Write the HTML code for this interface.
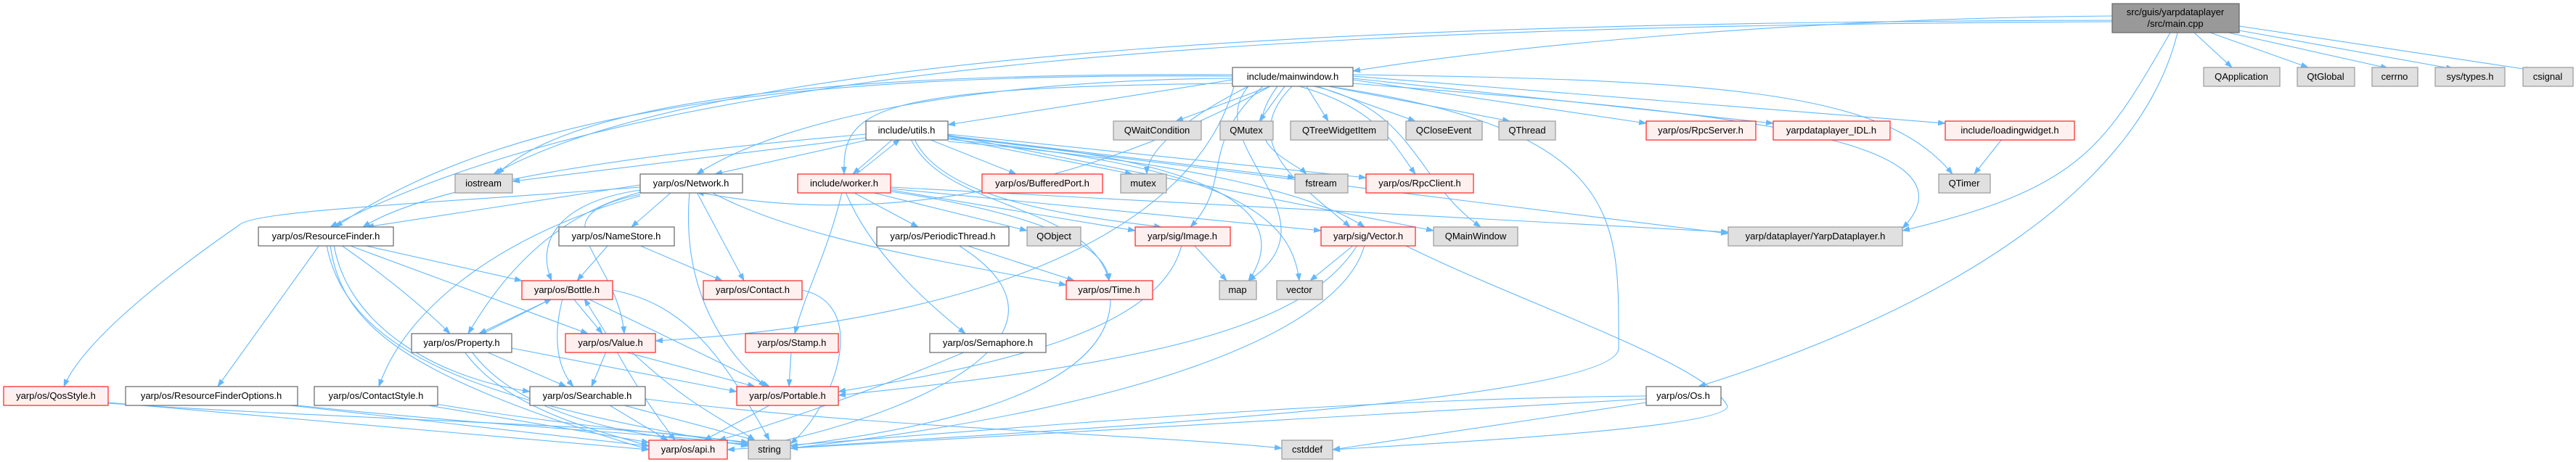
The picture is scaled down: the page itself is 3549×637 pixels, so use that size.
<!DOCTYPE html>
<html><head><meta charset="utf-8"><style>
html,body{margin:0;padding:0;background:#fff;}
svg{display:block;}
text{font-family:"Liberation Sans",sans-serif;font-size:13px;fill:#000;}
.e{fill:none;stroke:#63b8ff;stroke-width:1.1;marker-end:url(#a);}
.w{fill:#fff;stroke:#666;stroke-width:1.2;}
.r{fill:#fff0f0;stroke:#ff2020;stroke-width:1.2;}
.g{fill:#e0e0e0;stroke:#999;stroke-width:1.2;}
.m{fill:#999;stroke:#666;stroke-width:1.2;}
</style></head><body>
<svg width="3549" height="637" viewBox="0 0 3549 637" xmlns="http://www.w3.org/2000/svg">
<defs><marker id="a" markerUnits="userSpaceOnUse" markerWidth="11" markerHeight="8" refX="10" refY="4" orient="auto"><path d="M0,0 L11,4 L0,8 z" fill="#63b8ff"/></marker></defs>
<g>
<!-- main -->
<path class="e" d="M2910,22 C2500,25 2100,60 1864,98"/>
<path class="e" d="M2910,28 C2000,30 1000,60 680,240"/>
<path class="e" d="M2910,30 C1800,35 900,80 455,313"/>
<path class="e" d="M3023,45 L3075,93"/>
<path class="e" d="M3045,45 L3180,93"/>
<path class="e" d="M3070,45 L3290,94"/>
<path class="e" d="M3085,42 L3380,95"/>
<path class="e" d="M3085,36 L3490,97"/>
<path class="e" d="M2990,45 C2900,200 2870,260 2621,318"/>
<path class="e" d="M3000,45 C2950,250 2700,420 2340,533"/>
<!-- mainwindow -->
<path class="e" d="M1750,119 L1620,167"/>
<path class="e" d="M1770,119 L1735,167"/>
<path class="e" d="M1800,119 L1830,167"/>
<path class="e" d="M1815,119 L1950,167"/>
<path class="e" d="M1830,119 L2080,167"/>
<path class="e" d="M1864,110 L2268,170"/>
<path class="e" d="M1864,108 L2443,170"/>
<path class="e" d="M1864,105 L2680,170"/>
<path class="e" d="M1864,103 C2400,110 2600,130 2690,240"/>
<path class="e" d="M1698,110 L1306,172"/>
<path class="e" d="M1698,115 C1200,120 1160,150 1163,240"/>
<path class="e" d="M1698,108 C1400,110 1100,150 960,240"/>
<path class="e" d="M1698,105 C1100,100 700,150 462,313"/>
<path class="e" d="M1698,103 C1200,100 800,130 685,240"/>
<path class="e" d="M1760,119 C1700,200 1780,220 1800,240"/>
<path class="e" d="M1790,119 C1900,150 1920,200 1950,240"/>
<path class="e" d="M1810,119 C1950,150 1950,250 2040,313"/>
<path class="e" d="M1864,115 C2300,150 2750,180 2621,315"/>
<path class="e" d="M1740,119 C1650,200 1700,250 1640,313"/>
<path class="e" d="M1780,119 C1700,200 1800,260 1860,313"/>
<path class="e" d="M1830,119 C2240,180 2230,300 2230,480 C2230,560 1300,600 1089,618"/>
<path class="e" d="M1700,119 C1650,300 1400,440 903,470"/>
<path class="e" d="M1720,119 C1650,200 1850,300 1720,387"/>
<path class="e" d="M1720,119 C1600,180 1580,220 1580,240"/>
<path class="e" d="M1750,119 C1600,200 1300,330 960,265"/>
<!-- utils -->
<path class="e" d="M1193,190 L706,250"/>
<path class="e" d="M1200,192 L985,240"/>
<path class="e" d="M1193,185 C900,210 600,250 500,313"/>
<path class="e" d="M1230,192 L1175,240"/>
<path class="e" d="M1180,240 L1240,192"/>
<path class="e" d="M1280,192 L1400,240"/>
<path class="e" d="M1306,190 L1560,240"/>
<path class="e" d="M1306,187 L1784,245"/>
<path class="e" d="M1306,185 L1882,245"/>
<path class="e" d="M1260,192 C1300,280 1500,300 1600,313"/>
<path class="e" d="M1306,195 C1600,220 1800,260 1880,313"/>
<path class="e" d="M1306,190 C1700,220 1780,300 1720,387"/>
<path class="e" d="M1306,192 C1700,230 1780,300 1790,387"/>
<path class="e" d="M1306,188 L2381,322"/>
<path class="e" d="M1255,192 C1300,290 1500,280 1528,387"/>
<path class="e" d="M1306,186 L1975,318"/>
<!-- worker -->
<path class="e" d="M1160,265 C1140,350 1110,400 1095,460"/>
<path class="e" d="M1165,265 C1200,350 1280,420 1330,460"/>
<path class="e" d="M1175,265 L1265,313"/>
<path class="e" d="M1200,265 L1415,318"/>
<path class="e" d="M1227,262 L1564,318"/>
<path class="e" d="M1227,264 C1400,290 1525,330 1528,387"/>
<path class="e" d="M1227,260 L1820,318"/>
<path class="e" d="M1227,258 L2381,320"/>
<!-- Network -->
<path class="e" d="M925,265 L870,313"/>
<path class="e" d="M960,265 L1025,387"/>
<path class="e" d="M950,265 C940,380 980,470 1055,533"/>
<path class="e" d="M980,265 C1100,330 1300,360 1469,393"/>
<path class="e" d="M882,255 L505,313"/>
<path class="e" d="M882,258 C600,280 350,290 330,310 C200,400 110,480 88,533"/>
<path class="e" d="M882,262 C760,280 740,340 760,387"/>
<path class="e" d="M882,265 C750,300 680,400 645,460"/>
<path class="e" d="M882,268 C730,300 850,350 860,460"/>
<path class="e" d="M882,270 C700,320 560,420 522,533"/>
<!-- ResourceFinder -->
<path class="e" d="M500,338 L719,387"/>
<path class="e" d="M470,338 C530,380 580,420 620,460"/>
<path class="e" d="M480,338 L810,460"/>
<path class="e" d="M460,338 C480,450 600,520 730,540"/>
<path class="e" d="M440,338 L300,533"/>
<path class="e" d="M455,338 C470,450 560,520 894,620"/>
<path class="e" d="M450,338 C480,500 700,560 1031,615"/>
<!-- NameStore -->
<path class="e" d="M838,338 L795,387"/>
<path class="e" d="M880,338 L995,387"/>
<!-- Bottle -->
<path class="e" d="M760,412 L660,460"/>
<path class="e" d="M790,412 L830,460"/>
<path class="e" d="M775,412 C760,470 770,510 790,533"/>
<path class="e" d="M810,412 L1060,533"/>
<path class="e" d="M844,400 C950,420 1000,500 1060,607"/>
<!-- Property -->
<path class="e" d="M665,460 L760,412"/>
<path class="e" d="M670,485 L780,533"/>
<path class="e" d="M705,480 L1015,540"/>
<path class="e" d="M640,485 C700,570 850,600 894,615"/>
<path class="e" d="M650,485 C720,580 900,610 1040,612"/>
<!-- Value -->
<path class="e" d="M835,460 L805,412"/>
<path class="e" d="M835,485 L815,533"/>
<path class="e" d="M860,485 L1040,533"/>
<path class="e" d="M850,485 C880,540 910,580 930,607"/>
<path class="e" d="M870,485 C950,560 1000,580 1040,607"/>
<!-- Searchable etc -->
<path class="e" d="M840,559 L920,607"/>
<path class="e" d="M860,559 L1040,607"/>
<path class="e" d="M889,550 C1200,590 1600,600 1766,618"/>
<path class="e" d="M149,555 L894,620"/>
<path class="e" d="M149,556 C500,580 900,585 1031,612"/>
<path class="e" d="M400,559 L894,615"/>
<path class="e" d="M400,558 C700,590 950,600 1031,614"/>
<path class="e" d="M590,559 L894,610"/>
<path class="e" d="M600,557 C800,590 950,600 1031,610"/>
<path class="e" d="M1105,400 C1200,420 1150,560 1089,612"/>
<path class="e" d="M1090,485 L1087,533"/>
<path class="e" d="M1060,559 L970,607"/>
<path class="e" d="M1330,485 C1200,540 1050,590 990,607"/>
<path class="e" d="M1330,338 L1480,387"/>
<path class="e" d="M1320,338 C1500,450 1300,560 1060,612"/>
<path class="e" d="M1530,412 C1530,560 1200,600 1089,615"/>
<path class="e" d="M1645,338 L1690,387"/>
<path class="e" d="M1628,338 C1600,450 1400,500 1155,540"/>
<path class="e" d="M1865,338 L1805,387"/>
<path class="e" d="M1870,338 C1800,450 1600,500 1155,545"/>
<path class="e" d="M1880,338 C1850,450 1600,560 1089,618"/>
<path class="e" d="M1935,338 C2100,420 2350,500 2380,560 C2380,590 2000,610 1836,620"/>
<path class="e" d="M2268,546 C1800,550 1300,600 1002,620"/>
<path class="e" d="M2268,550 L1089,618"/>
<path class="e" d="M2268,555 L1836,620"/>
<path class="e" d="M2758,192 L2720,240"/>
</g>
<g>
<rect class="m" x="2910" y="5" width="175" height="40"/><text x="2997" y="21" text-anchor="middle">src/guis/yarpdataplayer</text><text x="2997" y="37" text-anchor="middle">/src/main.cpp</text>
<rect class="w" x="1698" y="93" width="166" height="26"/><text x="1781" y="110" text-anchor="middle">include/mainwindow.h</text>
<rect class="g" x="3036" y="93" width="105" height="26"/><text x="3088" y="110" text-anchor="middle">QApplication</text>
<rect class="g" x="3165" y="93" width="79" height="26"/><text x="3204" y="110" text-anchor="middle">QtGlobal</text>
<rect class="g" x="3268" y="93" width="63" height="26"/><text x="3299" y="110" text-anchor="middle">cerrno</text>
<rect class="g" x="3355" y="93" width="96" height="26"/><text x="3403" y="110" text-anchor="middle">sys/types.h</text>
<rect class="g" x="3476" y="93" width="69" height="26"/><text x="3510" y="110" text-anchor="middle">csignal</text>

<rect class="w" x="1193" y="167" width="113" height="26"/><text x="1249" y="184" text-anchor="middle">include/utils.h</text>
<rect class="g" x="1534" y="167" width="121" height="26"/><text x="1594" y="184" text-anchor="middle">QWaitCondition</text>
<rect class="g" x="1681" y="167" width="73" height="26"/><text x="1717" y="184" text-anchor="middle">QMutex</text>
<rect class="g" x="1778" y="167" width="134" height="26"/><text x="1845" y="184" text-anchor="middle">QTreeWidgetItem</text>
<rect class="g" x="1937" y="167" width="105" height="26"/><text x="1989" y="184" text-anchor="middle">QCloseEvent</text>
<rect class="g" x="2065" y="167" width="78" height="26"/><text x="2104" y="184" text-anchor="middle">QThread</text>
<rect class="r" x="2268" y="167" width="151" height="26"/><text x="2343" y="184" text-anchor="middle">yarp/os/RpcServer.h</text>
<rect class="r" x="2443" y="167" width="161" height="26"/><text x="2523" y="184" text-anchor="middle">yarpdataplayer_IDL.h</text>
<rect class="r" x="2680" y="167" width="178" height="26"/><text x="2769" y="184" text-anchor="middle">include/loadingwidget.h</text>

<rect class="g" x="627" y="240" width="79" height="26"/><text x="666" y="257" text-anchor="middle">iostream</text>
<rect class="w" x="882" y="240" width="141" height="26"/><text x="952" y="257" text-anchor="middle">yarp/os/Network.h</text>
<rect class="r" x="1099" y="240" width="128" height="26"/><text x="1163" y="257" text-anchor="middle">include/worker.h</text>
<rect class="r" x="1353" y="240" width="166" height="26"/><text x="1436" y="257" text-anchor="middle">yarp/os/BufferedPort.h</text>
<rect class="g" x="1544" y="240" width="63" height="26"/><text x="1575" y="257" text-anchor="middle">mutex</text>
<rect class="g" x="1784" y="240" width="73" height="26"/><text x="1820" y="257" text-anchor="middle">fstream</text>
<rect class="r" x="1882" y="240" width="148" height="26"/><text x="1956" y="257" text-anchor="middle">yarp/os/RpcClient.h</text>
<rect class="g" x="2671" y="240" width="71" height="26"/><text x="2706" y="257" text-anchor="middle">QTimer</text>

<rect class="w" x="356" y="313" width="186" height="26"/><text x="449" y="330" text-anchor="middle">yarp/os/ResourceFinder.h</text>
<rect class="w" x="770" y="313" width="159" height="26"/><text x="849" y="330" text-anchor="middle">yarp/os/NameStore.h</text>
<rect class="w" x="1208" y="313" width="182" height="26"/><text x="1299" y="330" text-anchor="middle">yarp/os/PeriodicThread.h</text>
<rect class="g" x="1415" y="313" width="74" height="26"/><text x="1452" y="330" text-anchor="middle">QObject</text>
<rect class="r" x="1564" y="313" width="131" height="26"/><text x="1629" y="330" text-anchor="middle">yarp/sig/Image.h</text>
<rect class="r" x="1820" y="313" width="130" height="26"/><text x="1885" y="330" text-anchor="middle">yarp/sig/Vector.h</text>
<rect class="g" x="1975" y="313" width="116" height="26"/><text x="2033" y="330" text-anchor="middle">QMainWindow</text>
<rect class="g" x="2381" y="313" width="240" height="26"/><text x="2501" y="330" text-anchor="middle">yarp/dataplayer/YarpDataplayer.h</text>

<rect class="r" x="719" y="387" width="125" height="26"/><text x="781" y="404" text-anchor="middle">yarp/os/Bottle.h</text>
<rect class="r" x="969" y="387" width="136" height="26"/><text x="1037" y="404" text-anchor="middle">yarp/os/Contact.h</text>
<rect class="r" x="1469" y="387" width="119" height="26"/><text x="1528" y="404" text-anchor="middle">yarp/os/Time.h</text>
<rect class="g" x="1680" y="387" width="51" height="26"/><text x="1705" y="404" text-anchor="middle">map</text>
<rect class="g" x="1759" y="387" width="63" height="26"/><text x="1790" y="404" text-anchor="middle">vector</text>

<rect class="w" x="567" y="460" width="138" height="26"/><text x="636" y="477" text-anchor="middle">yarp/os/Property.h</text>
<rect class="r" x="779" y="460" width="124" height="26"/><text x="841" y="477" text-anchor="middle">yarp/os/Value.h</text>
<rect class="r" x="1027" y="460" width="128" height="26"/><text x="1091" y="477" text-anchor="middle">yarp/os/Stamp.h</text>
<rect class="w" x="1281" y="460" width="160" height="26"/><text x="1361" y="477" text-anchor="middle">yarp/os/Semaphore.h</text>

<rect class="r" x="5" y="533" width="144" height="26"/><text x="77" y="550" text-anchor="middle">yarp/os/QosStyle.h</text>
<rect class="w" x="173" y="533" width="237" height="26"/><text x="291" y="550" text-anchor="middle">yarp/os/ResourceFinderOptions.h</text>
<rect class="w" x="433" y="533" width="170" height="26"/><text x="518" y="550" text-anchor="middle">yarp/os/ContactStyle.h</text>
<rect class="w" x="730" y="533" width="159" height="26"/><text x="809" y="550" text-anchor="middle">yarp/os/Searchable.h</text>
<rect class="r" x="1015" y="533" width="140" height="26"/><text x="1085" y="550" text-anchor="middle">yarp/os/Portable.h</text>
<rect class="w" x="2268" y="533" width="103" height="26"/><text x="2319" y="550" text-anchor="middle">yarp/os/Os.h</text>

<rect class="r" x="894" y="607" width="108" height="26"/><text x="948" y="624" text-anchor="middle">yarp/os/api.h</text>
<rect class="g" x="1031" y="607" width="58" height="26"/><text x="1060" y="624" text-anchor="middle">string</text>
<rect class="g" x="1766" y="607" width="70" height="26"/><text x="1801" y="624" text-anchor="middle">cstddef</text>
</g>
</svg>
</body></html>
